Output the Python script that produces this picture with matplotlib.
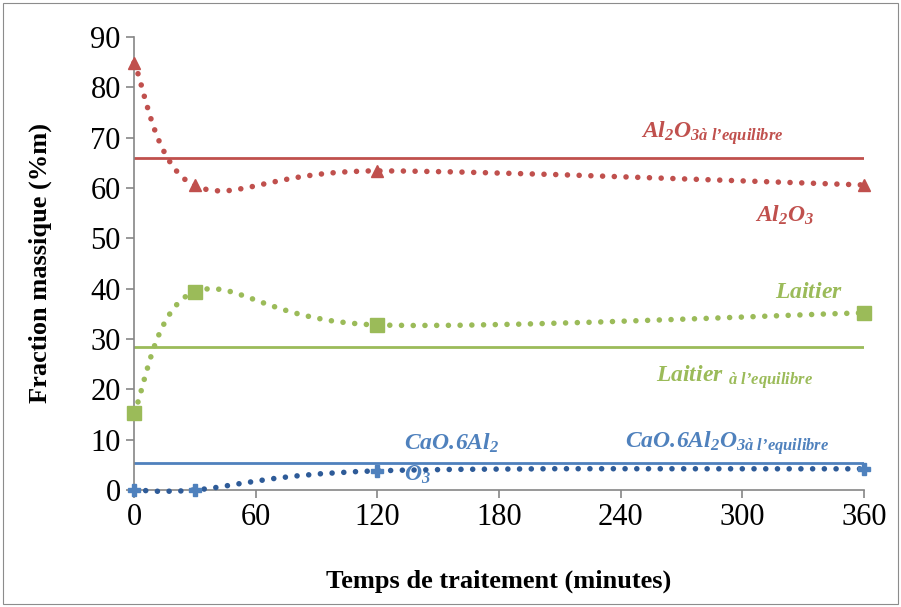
import numpy as np
import matplotlib.pyplot as plt
from matplotlib.path import Path
from matplotlib.patches import PathPatch, Rectangle

plt.rcParams['font.family'] = ['Liberation Serif', 'DejaVu Serif']
plt.rcParams['mathtext.fontset'] = 'custom'
plt.rcParams['mathtext.rm'] = 'Liberation Serif:bold:italic'
plt.rcParams['mathtext.it'] = 'Liberation Serif:bold:italic'
plt.rcParams['mathtext.bf'] = 'Liberation Serif:bold:italic'

# measured times (minutes)
temps = [0, 30, 120, 360]
# mass fractions (%m)
al2o3 = [84.9, 60.5, 63.4, 60.6]
laitier = [15.3, 39.4, 32.8, 35.2]
cao6al2o3 = [0.0, 0.0, 3.8, 4.2]
# equilibrium values
al2o3_eq = 66.0
laitier_eq = 28.4
cao6al2o3_eq = 5.4

xticks = [0, 60, 120, 180, 240, 300, 360]
yticks = list(range(0, 91, 10))

red = '#C0504D'
green = '#9BBB59'
blue = '#4F81BD'
dark_blue = '#2E5B98'


def smooth_path(xs, ys):
    # excel-like smoothed line: cubic bezier segments through the points
    pts = np.column_stack([xs, ys]).astype(float)
    n = len(pts)
    verts = [pts[0]]
    codes = [Path.MOVETO]
    for i in range(n - 1):
        p0 = pts[i - 1] if i > 0 else pts[i]
        p1 = pts[i]
        p2 = pts[i + 1]
        p3 = pts[i + 2] if i + 2 < n else pts[i + 1]
        verts += [p1 + (p2 - p0) / 6, p2 - (p3 - p1) / 6, p2]
        codes += [Path.CURVE4] * 3
    return Path(verts, codes)


fig = plt.figure(figsize=(9.01, 6.07), dpi=100)
ax = fig.add_axes([0.1487, 0.1928, 0.8103, 0.7462])

fig.patches.append(Rectangle((0.003, 0.005), 0.994, 0.99, transform=fig.transFigure,
                             fill=False, edgecolor='#8c8c8c', linewidth=0.8))

# equilibrium lines
ax.plot([0, 360], [al2o3_eq, al2o3_eq], color=red, lw=2)
ax.plot([0, 360], [laitier_eq, laitier_eq], color=green, lw=2)
ax.plot([0, 360], [cao6al2o3_eq, cao6al2o3_eq], color=blue, lw=2)

for ys, c in [(al2o3, red), (laitier, green), (cao6al2o3, dark_blue)]:
    p = PathPatch(smooth_path(temps, ys), transform=ax.transData, fill=False,
                  edgecolor=c, linewidth=4, linestyle=(0, (0.01, 2.1)),
                  capstyle='round', clip_on=False, zorder=3)
    ax.add_patch(p)

ax.plot(temps, al2o3, ls='none', marker='^', ms=8, color=red, clip_on=False, zorder=4)
ax.plot(temps, laitier, ls='none', marker='s', ms=10, color=green, clip_on=False, zorder=4)
ax.plot(temps, cao6al2o3, ls='none', marker='P', ms=9, color=blue, clip_on=False, zorder=4)

# labels in the plot
fs = 17
ax.text(285, 71, r"$Al_2O_{3à\ l’equilibre}$", color=red, fontsize=fs, ha='center', va='center')
ax.text(321, 54.5, r"$Al_2O_3$", color=red, fontsize=fs, ha='center', va='center')
ax.text(333, 39.2, r"$Laitier$", color=green, fontsize=fs, ha='center', va='center')
ax.text(296, 22.4, r"$Laitier\ _{à\ l’equilibre}$", color=green, fontsize=fs, ha='center', va='center')
ax.text(133, 9.2, r"$CaO.\!6Al_2$", color=blue, fontsize=fs, ha='left', va='center')
ax.text(133, 3.0, r"$O_3$", color=blue, fontsize=fs, ha='left', va='center')
ax.text(242, 9.3, r"$CaO.\!6Al_2O_{3à\ l’equilibre}$", color=blue, fontsize=fs, ha='left', va='center')

ax.set_xlim(0, 360)
ax.set_ylim(0, 90)
ax.set_xticks(xticks)
ax.set_yticks(yticks)
ax.tick_params(labelsize=22, length=6, width=1.2, color='#868686', direction='out')
for s in ['top', 'right']:
    ax.spines[s].set_visible(False)
for s in ['left', 'bottom']:
    ax.spines[s].set_color('#868686')
    ax.spines[s].set_linewidth(1.2)

ax.set_xlabel('Temps de traitement (minutes)', fontsize=19, fontweight='bold', labelpad=27)
ax.set_ylabel('Fraction massique (%m)', fontsize=19, fontweight='bold', labelpad=28)

fig.savefig('out.png', dpi=100)
